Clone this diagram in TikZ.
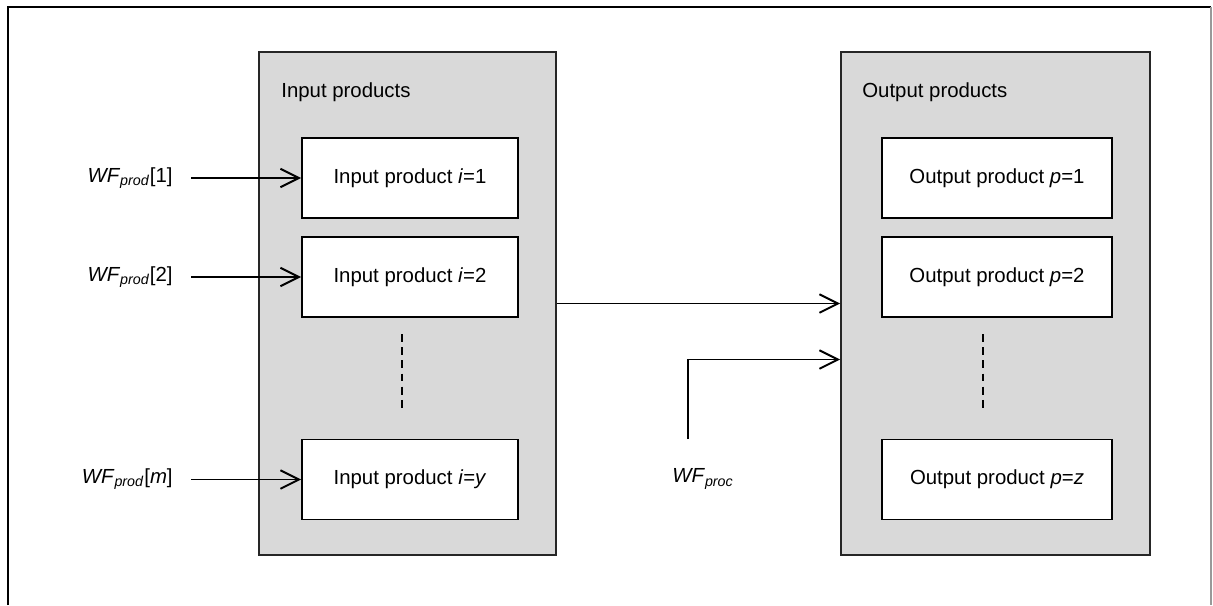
\documentclass[tikz,border=0pt]{standalone}
\usepackage{fontspec}
\setmainfont{Liberation Sans}
\usetikzlibrary{calc}
\usetikzlibrary{arrows.meta}

\begin{document}
\begin{tikzpicture}[
		x=0.02cm, y=-0.02cm,
		>={Straight Barb[length=10.5pt,width=10.5pt]},
		every node/.style={font=\fontsize{11.6}{14}\selectfont},
		group/.style={draw=black!85, fill=black!15, line width=1.1pt, minimum height=10.06cm},
		item/.style={draw=black, fill=white, line width=1.1pt, minimum height=1.6cm},
		flow/.style={->, line width=1.1pt},
		dots/.style={line width=1.1pt, dash pattern=on 4.5pt off 3pt},
	]
	\useasboundingbox (0,0) rectangle (1213,605);
	\draw[line width=1.1pt] (8,605) -- (8,7) -- (1211,7);
	\draw[black!40, line width=0.8pt] (1211,7) -- (1211,605);
	% the two groups
	\node[group, minimum width=5.94cm] (inputs) at (407.5,303.5) {};
	\node[group, minimum width=6.18cm] (outputs) at (995.5,303.5) {};
	\node[anchor=west, inner sep=0pt] (intitle) at (281,92) {Input products};
	\node[anchor=west, inner sep=0pt] (outtitle) at (862,92) {Output products};
	% input products
	\node[item, minimum width=4.32cm] (in1) at (410,178) {Input product \textit{i}=1};
	\node[item, minimum width=4.32cm] (in2) at (410,277) {Input product \textit{i}=2};
	\node[item, minimum width=4.32cm] (iny) at (410,479.5) {Input product \textit{i}=\textit{y}};
	% output products
	\node[item, minimum width=4.6cm] (out1) at (997,178) {Output product \textit{p}=1};
	\node[item, minimum width=4.6cm] (out2) at (997,277) {Output product \textit{p}=2};
	\node[item, minimum width=4.6cm] (outz) at (997,479.5) {Output product \textit{p}=\textit{z}};
	\draw[dots] (402,334) -- (402,412);
	\draw[dots] (983,334) -- (983,412);
	% water footprints going in
	\node[anchor=east, inner sep=0pt] (wf1) at (173,178) {\textit{WF}\textsubscript{\textit{prod}}[1]};
	\node[anchor=east, inner sep=0pt] (wf2) at (173,277) {\textit{WF}\textsubscript{\textit{prod}}[2]};
	\node[anchor=east, inner sep=0pt] (wfm) at (173,479.5) {\textit{WF}\textsubscript{\textit{prod}}[\textit{m}]};
	\node[inner sep=0pt] (wfproc) at (703,479) {\textit{WF}\textsubscript{\textit{proc}}};
	\draw[flow] ($(wf1.east)+(18,0)$) -- (in1.west);
	\draw[flow] ($(wf2.east)+(18,0)$) -- (in2.west);
	\draw[flow] ($(wfm.east)+(18,0)$) -- (iny.west);
	\draw[flow] (inputs.east) -- (outputs.west);
	\coordinate (procfoot) at (688,439);
	\draw[flow] (procfoot) |- ($(outputs.west)+(0,56)$);
\end{tikzpicture}
\end{document}
